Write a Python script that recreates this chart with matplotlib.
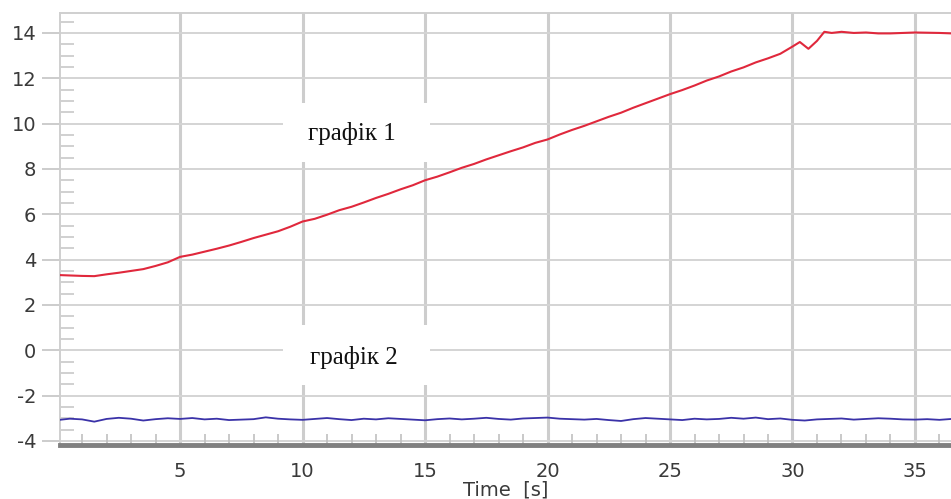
import numpy as np
import matplotlib
matplotlib.use("Agg")
import matplotlib.pyplot as plt
from matplotlib.patches import Rectangle
from matplotlib.ticker import MultipleLocator

plt.rcParams["axes.unicode_minus"] = False

# ---- data ----
red_time = [0.0, 0.5, 1.0, 1.5, 2.0, 2.5, 3.0, 3.5, 4.0, 4.5,
            5.0, 5.5, 6.0, 6.5, 7.0, 7.5, 8.0, 8.5, 9.0, 9.5,
            10.0, 10.5, 11.0, 11.5, 12.0, 12.5, 13.0, 13.5, 14.0, 14.5,
            15.0, 15.5, 16.0, 16.5, 17.0, 17.5, 18.0, 18.5, 19.0, 19.5,
            20.0, 20.5, 21.0, 21.5, 22.0, 22.5, 23.0, 23.5, 24.0, 24.5,
            25.0, 25.5, 26.0, 26.5, 27.0, 27.5, 28.0, 28.5, 29.0, 29.5,
            30.0, 30.3, 30.65, 31.0, 31.3, 31.6, 32.0, 32.5, 33.0, 33.5,
            34.0, 34.5, 35.0, 35.5, 36.0, 36.5]
red_values = [3.32, 3.30, 3.28, 3.27, 3.35, 3.42, 3.50, 3.58, 3.72, 3.88,
              4.12, 4.22, 4.35, 4.48, 4.62, 4.78, 4.95, 5.10, 5.25, 5.45,
              5.68, 5.80, 5.98, 6.18, 6.33, 6.52, 6.72, 6.90, 7.10, 7.28,
              7.50, 7.66, 7.85, 8.05, 8.22, 8.42, 8.60, 8.78, 8.95, 9.15,
              9.30, 9.52, 9.72, 9.90, 10.10, 10.30, 10.48, 10.70, 10.90, 11.10,
              11.30, 11.48, 11.68, 11.90, 12.08, 12.30, 12.48, 12.70, 12.88, 13.08,
              13.40, 13.60, 13.30, 13.65, 14.05, 14.00, 14.05, 14.00, 14.02, 13.98,
              13.98, 14.00, 14.02, 14.01, 14.00, 13.98]

blue_time = [i * 0.5 for i in range(74)]
blue_values = [-3.08, -3.02, -3.05, -3.15, -3.03, -2.98, -3.02, -3.10, -3.04, -3.00,
               -3.03, -2.99, -3.05, -3.02, -3.08, -3.06, -3.04, -2.96, -3.02, -3.05,
               -3.07, -3.03, -2.99, -3.04, -3.08, -3.02, -3.05, -3.00, -3.03, -3.06,
               -3.09, -3.04, -3.01, -3.05, -3.02, -2.98, -3.03, -3.06, -3.01, -2.99,
               -2.97, -3.02, -3.04, -3.06, -3.03, -3.08, -3.12, -3.04, -2.99, -3.02,
               -3.05, -3.08, -3.02, -3.05, -3.03, -2.98, -3.02, -2.97, -3.04, -3.01,
               -3.07, -3.10, -3.05, -3.03, -3.01, -3.06, -3.03, -3.00, -3.02, -3.05,
               -3.06, -3.04, -3.07, -3.03]

x_ticks = [5, 10, 15, 20, 25, 30, 35]
y_ticks = [-4, -2, 0, 2, 4, 6, 8, 10, 12, 14]
label1 = "графік 1"
label2 = "графік 2"
x_label = "Time  [s]"

# ---- figure ----
W, H = 951, 499
fig = plt.figure(figsize=(W / 100, H / 100), dpi=100)
ax = fig.add_axes([60 / W, 1 - 445 / H, 1 - 60 / W, (445 - 13) / H])

ax.set_xlim(0.1, 36.47)
ax.set_ylim(-4.18, 14.88)

# grid
for xv in x_ticks:
    ax.axvline(xv, color="#cdcdcd", lw=2.2, zorder=1)
for yv in y_ticks:
    ax.axhline(yv, color="#d4d4d4", lw=1.4, zorder=1)

# white boxes behind labels
ax.add_patch(Rectangle((9.2, 8.31), 6.0, 2.6, facecolor="white",
                       edgecolor="none", zorder=2))
ax.add_patch(Rectangle((9.2, -1.53), 6.0, 2.65, facecolor="white",
                       edgecolor="none", zorder=2))

ax.plot(red_time, red_values, color="#e0283c", lw=1.5, zorder=3)
ax.plot(blue_time, blue_values, color="#3a32a8", lw=1.3, zorder=3)

ax.text(12.0, 9.55, label1, fontsize=18, family="Liberation Serif",
        ha="center", va="center", color="#111111", zorder=4)
ax.text(12.1, -0.3, label2, fontsize=18, family="Liberation Serif",
        ha="center", va="center", color="#111111", zorder=4)

# ticks
ax.set_xticks(x_ticks)
ax.set_yticks(y_ticks)
ax.xaxis.set_minor_locator(MultipleLocator(1))
ax.yaxis.set_minor_locator(MultipleLocator(0.5))
ax.tick_params(axis="x", which="major", length=0, pad=12,
               labelsize=14, labelcolor="#3a3a3a")
ax.tick_params(axis="y", which="major", length=13, width=1.4, color="#cccccc",
               pad=4, labelsize=14, labelcolor="#3a3a3a")
ax.tick_params(axis="x", which="minor", direction="in", length=8,
               width=1.2, color="#c0c0c0")
ax.tick_params(axis="y", which="minor", direction="in", length=10,
               width=1.2, color="#c8c8c8")

ax.set_xlabel(x_label, fontsize=14, color="#3a3a3a", labelpad=0)

for s in ["top", "left"]:
    ax.spines[s].set_color("#cfcfcf")
    ax.spines[s].set_linewidth(1.4)
ax.spines["right"].set_visible(False)
ax.spines["bottom"].set_color("#808080")
ax.spines["bottom"].set_linewidth(3.5)

fig.savefig("out.png", dpi=100, facecolor="white")
